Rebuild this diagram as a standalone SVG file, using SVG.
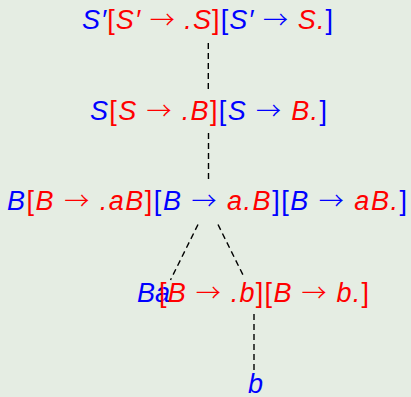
<svg xmlns="http://www.w3.org/2000/svg" width="411" height="397" viewBox="0 0 411 397">
<style>
text{font-family:"Liberation Sans",Arial,sans-serif;font-size:27px;font-style:italic}
.b{fill:#0000ff}
.r{fill:#ff0000}
.u{font-style:normal}
.a{font-style:normal;font-family:"Noto Sans CJK JP",sans-serif;font-size:25px;font-weight:300}
.dash{stroke:#000;stroke-width:1.4;stroke-dasharray:6 4;fill:none}
</style>
<rect width="411" height="397" fill="#e5ede3"/>
<g id="connectors">
<line class="dash" x1="208.3" y1="43" x2="208.3" y2="93"/>
<line class="dash" x1="208.5" y1="133" x2="208.5" y2="183"/>
<line class="dash" x1="198" y1="224.5" x2="170.5" y2="280"/>
<line class="dash" x1="218" y1="224.5" x2="244" y2="277"/>
<line class="dash" x1="254" y1="314" x2="254" y2="371"/>
</g>
<g id="node1">
<text x="82" y="28.5" textLength="251" lengthAdjust="spacing"><tspan class="b">S′</tspan><tspan class="r u">[</tspan><tspan class="r">S′ </tspan><tspan class="r a">→</tspan><tspan class="r"> .S</tspan><tspan class="r u">]</tspan><tspan class="b u">[</tspan><tspan class="b">S′ </tspan><tspan class="b a">→</tspan><tspan class="r"> S.</tspan><tspan class="b u">]</tspan></text>
</g>
<g id="node2">
<text x="90" y="120" textLength="237" lengthAdjust="spacing"><tspan class="b">S</tspan><tspan class="r u">[</tspan><tspan class="r">S </tspan><tspan class="r a">→</tspan><tspan class="r"> .B</tspan><tspan class="r u">]</tspan><tspan class="b u">[</tspan><tspan class="b">S </tspan><tspan class="b a">→</tspan><tspan class="r"> B.</tspan><tspan class="b u">]</tspan></text>
</g>
<g id="node3">
<text x="7" y="210" textLength="400" lengthAdjust="spacing"><tspan class="b">B</tspan><tspan class="r u">[</tspan><tspan class="r">B </tspan><tspan class="r a">→</tspan><tspan class="r"> .aB</tspan><tspan class="r u">]</tspan><tspan class="b u">[</tspan><tspan class="b">B </tspan><tspan class="b a">→</tspan><tspan class="r"> a.B</tspan><tspan class="b u">]</tspan><tspan class="b u">[</tspan><tspan class="b">B </tspan><tspan class="b a">→</tspan><tspan class="r"> aB.</tspan><tspan class="b u">]</tspan></text>
</g>
<g id="node4">
<text class="b" x="137" y="302">Ba</text>
<text x="159" y="302" textLength="210" lengthAdjust="spacing" class="r"><tspan class="u">[</tspan>B <tspan class="a">→</tspan> .b<tspan class="u">]</tspan><tspan class="u">[</tspan>B <tspan class="a">→</tspan> b.<tspan class="u">]</tspan></text>
</g>
<g id="node5">
<text class="b" x="248" y="393">b</text>
</g>
</svg>
